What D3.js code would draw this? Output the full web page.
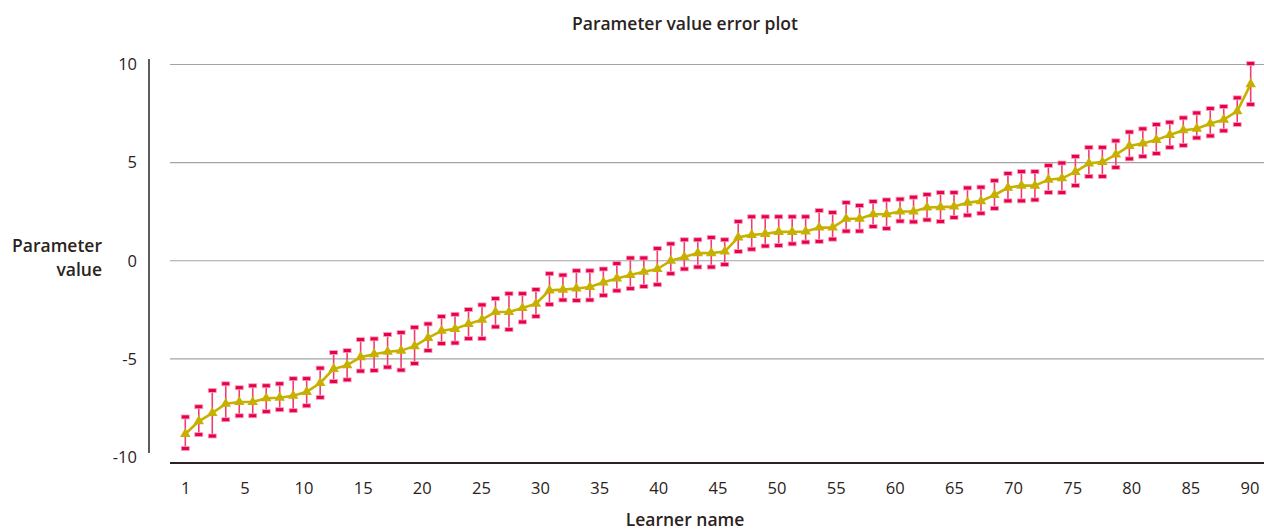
<!DOCTYPE html>
<html>
<head>
<meta charset="utf-8">
<script src="https://cdn.jsdelivr.net/npm/d3@7"></script>
<style>
  html, body { margin: 0; padding: 0; background: #fff; }
  svg { display: block; font-family: "Open Sans", "Noto Sans", sans-serif; }
</style>
</head>
<body>
<svg id="chart" width="1264" height="532"></svg>
<script>
// ---------------- data ----------------
const learners = [1,2,3,4,5,6,7,8,9,10,11,12,13,14,15,16,17,18,19,20,
  21,22,23,24,25,26,27,28,29,30,31,32,33,34,35,36,37,38,39,40,
  41,42,43,44,45,46,47,48,49,50,51,52,53,54,55,56,57,58,59,60,
  61,62,63,64,65,66,67,68,69,70,71,72,73,74,75,76,77,78,79,80];

const values = [-8.83,-8.18,-7.76,-7.29,-7.20,-7.20,-7.01,-6.98,-6.88,-6.68,
  -6.23,-5.51,-5.32,-4.91,-4.76,-4.64,-4.58,-4.35,-3.93,-3.57,
  -3.47,-3.22,-3.00,-2.61,-2.61,-2.41,-2.19,-1.51,-1.47,-1.41,
  -1.34,-1.10,-0.90,-0.73,-0.56,-0.42,0.00,0.19,0.39,0.39,
  0.47,1.19,1.32,1.37,1.47,1.47,1.49,1.69,1.69,2.14,
  2.14,2.37,2.37,2.51,2.51,2.71,2.73,2.76,2.96,3.04,
  3.35,3.72,3.83,3.83,4.13,4.20,4.53,4.96,5.03,5.41,
  5.85,5.98,6.16,6.41,6.65,6.73,6.99,7.19,7.62,9.00];

const upper = [-7.96,-7.44,-6.61,-6.27,-6.47,-6.37,-6.37,-6.27,-6.01,-6.01,
  -5.47,-4.68,-4.58,-4.02,-3.98,-3.76,-3.66,-3.39,-3.22,-2.84,
  -2.73,-2.49,-2.25,-1.93,-1.68,-1.68,-1.47,-0.66,-0.73,-0.51,
  -0.51,-0.42,-0.14,0.14,0.14,0.63,0.86,1.07,1.07,1.19,
  1.07,2.00,2.24,2.24,2.24,2.24,2.24,2.56,2.46,2.96,
  2.81,3.02,3.10,3.14,3.24,3.37,3.47,3.47,3.71,3.75,
  4.08,4.44,4.54,4.54,4.86,4.98,5.32,5.78,5.78,6.11,
  6.56,6.72,6.94,7.06,7.28,7.53,7.76,7.86,8.30,10.05];

const lower = [-9.57,-8.86,-8.93,-8.10,-7.90,-7.90,-7.69,-7.59,-7.64,-7.39,
  -6.96,-6.15,-6.07,-5.62,-5.59,-5.42,-5.57,-5.24,-4.58,-4.22,
  -4.19,-3.97,-3.97,-3.37,-3.51,-3.12,-2.83,-2.22,-2.00,-2.02,
  -2.00,-1.76,-1.53,-1.42,-1.31,-1.22,-0.66,-0.42,-0.32,-0.32,
  -0.19,0.47,0.59,0.75,0.78,0.86,0.95,0.98,1.10,1.51,
  1.51,1.74,1.64,2.02,1.98,2.08,2.00,2.20,2.32,2.42,
  2.67,3.05,3.05,3.10,3.48,3.47,3.83,4.30,4.30,4.76,
  5.19,5.32,5.46,5.78,5.88,6.26,6.36,6.62,6.94,7.97];

const xTickLabels = ["1","5","10","15","20","25","30","35","40","45",
  "50","55","60","65","70","75","80","85","90"];
const yTickValues = [-10, -5, 0, 5, 10];

const titleText = "Parameter value error plot";
const xTitle = "Learner name";
const yTitleLines = ["Parameter", "value"];

// ---------------- layout ----------------
const svg = d3.select("#chart");
const textColor = "#2b2321";
const barColor = "#e8004b";
const lineColor = "#c8b000";
const fontFam = "'Open Sans', 'Noto Sans', sans-serif";

const plotLeft = 170, plotRight = 1264;
const x = d3.scalePoint().domain(learners).range([185.3, 1250.7]);
const xTicks = d3.scalePoint().domain(xTickLabels).range([185.3, 1249.5]);
const y = d3.scaleLinear().domain([-10, 10]).range([457, 64.5]);

// gridlines
svg.append("g").selectAll("line")
  .data(yTickValues.filter(v => v > -10))
  .join("line")
  .attr("x1", plotLeft).attr("x2", plotRight)
  .attr("y1", d => y(d)).attr("y2", d => y(d))
  .attr("stroke", "#a4a4a4").attr("stroke-width", 1.2);

// y axis
const yAxis = svg.append("g")
  .attr("transform", "translate(149,0)")
  .call(d3.axisLeft(y).tickValues(yTickValues).tickSize(0).tickPadding(12).tickFormat(d => String(d)));
yAxis.select(".domain").remove();
yAxis.selectAll("text").attr("fill", textColor).style("font-size", "16.5px").style("font-family", fontFam);
svg.append("line")
  .attr("x1", 149).attr("x2", 149).attr("y1", 59).attr("y2", 453)
  .attr("stroke", textColor).attr("stroke-width", 1.5);

// x axis
const xAxis = svg.append("g")
  .attr("transform", "translate(0,463)")
  .call(d3.axisBottom(xTicks).tickSize(0).tickPadding(19));
xAxis.select(".domain").remove();
xAxis.selectAll("text").attr("fill", textColor).style("font-size", "16.5px").style("font-family", fontFam);
svg.append("line")
  .attr("x1", plotLeft).attr("x2", plotRight).attr("y1", 463).attr("y2", 463)
  .attr("stroke", textColor).attr("stroke-width", 2);

// error bars
const pts = learners.map((l, i) => ({l, v: values[i], hi: upper[i], lo: lower[i]}));
const eb = svg.append("g");
eb.selectAll("line.whisker").data(pts).join("line")
  .attr("class", "whisker")
  .attr("x1", d => x(d.l)).attr("x2", d => x(d.l))
  .attr("y1", d => y(d.lo)).attr("y2", d => y(d.hi))
  .attr("stroke", "#ee3f70").attr("stroke-width", 1.6);
eb.selectAll("rect.capHi").data(pts).join("rect")
  .attr("class", "capHi")
  .attr("x", d => x(d.l) - 4).attr("y", d => y(d.hi) - 2)
  .attr("width", 8).attr("height", 4)
  .attr("fill", barColor).attr("stroke", "#f7a3bd").attr("stroke-width", 0.8);
eb.selectAll("rect.capLo").data(pts).join("rect")
  .attr("class", "capLo")
  .attr("x", d => x(d.l) - 4).attr("y", d => y(d.lo) - 2)
  .attr("width", 8).attr("height", 4)
  .attr("fill", barColor).attr("stroke", "#f7a3bd").attr("stroke-width", 0.8);

// line
svg.append("path").datum(pts)
  .attr("fill", "none").attr("stroke", lineColor).attr("stroke-width", 2.6)
  .attr("stroke-linejoin", "round")
  .attr("d", d3.line().x(d => x(d.l)).y(d => y(d.v)));

// markers
svg.append("g").selectAll("path").data(pts).join("path")
  .attr("transform", d => `translate(${x(d.l)},${y(d.v)})`)
  .attr("d", d3.symbol().type(d3.symbolTriangle).size(48))
  .attr("fill", lineColor);

// titles
svg.append("text").attr("x", 685).attr("y", 30).attr("text-anchor", "middle")
  .attr("fill", textColor).style("font-size", "17.5px").style("font-weight", 600)
  .style("font-family", fontFam).text(titleText);
svg.append("text").attr("x", 685).attr("y", 526).attr("text-anchor", "middle")
  .attr("fill", textColor).style("font-size", "17.5px").style("font-weight", 600)
  .style("font-family", fontFam).text(xTitle);
svg.append("text").attr("text-anchor", "end")
  .attr("fill", textColor).style("font-size", "17.5px").style("font-weight", 600)
  .style("font-family", fontFam)
  .selectAll("tspan").data(yTitleLines).join("tspan")
  .attr("x", 102).attr("y", (d, i) => 252 + i * 24).text(d => d);
</script>
</body>
</html>
